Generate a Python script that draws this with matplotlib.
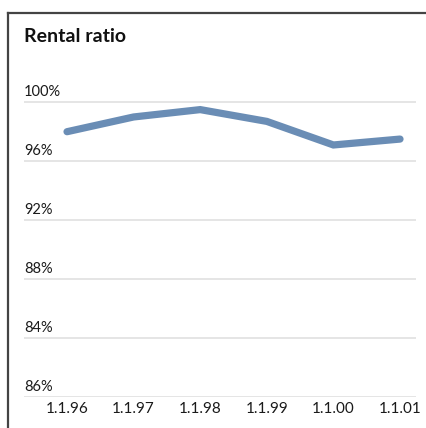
import matplotlib
matplotlib.use("Agg")
import matplotlib.pyplot as plt
from matplotlib.lines import Line2D

# Rental ratio at the start of each year
dates = ["1.1.96", "1.1.97", "1.1.98", "1.1.99", "1.1.00", "1.1.01"]
ratio = [98.0, 99.0, 99.5, 98.7, 97.1, 97.5]

grid_values = [100, 96, 92, 88, 84, 80]
grid_labels = ["100%", "96%", "92%", "88%", "84%", "86%"]

W, H = 426, 428
plt.rcParams['font.family'] = ['Lato', 'DejaVu Sans']

fig = plt.figure(figsize=(W / 100, H / 100), dpi=100)
ax = fig.add_axes([24 / W, 1 - 397 / H, 392 / W, (397 - 90) / H])

x = list(range(len(dates)))
ax.plot(x, ratio, color='#6a8db5', linewidth=5.2, solid_capstyle='round',
        solid_joinstyle='miter', zorder=3)

ax.set_xlim(-0.646, 5.24)
ax.set_ylim(80, 100.83)
ax.set_yticks(grid_values)
ax.set_yticklabels([])
ax.grid(axis='y', color='#e0e0e0', linewidth=1.2)
ax.set_xticks(x)
ax.set_xticklabels(dates, fontsize=11, color='#1a1a1a')
ax.tick_params(length=0, pad=3.5)
for side in ax.spines.values():
    side.set_visible(False)

# percentage labels sit just above their grid lines
for v, lab in zip(grid_values, grid_labels):
    ax.text(0, v + 0.2, lab, transform=ax.get_yaxis_transform(),
            ha='left', va='bottom', fontsize=10.5, color='#1a1a1a')

fig.text(24 / W, 1 - 28 / H, "Rental ratio", fontsize=14, fontweight='bold',
         ha='left', va='top', color='#111111')

# frame along the top and left edge
fig.add_artist(Line2D([7.5 / W, 1], [1 - 12.5 / H] * 2, color='#444444', linewidth=1.6))
fig.add_artist(Line2D([7.5 / W] * 2, [0, 1 - 12.5 / H], color='#444444', linewidth=1.6))

fig.savefig("out.png", dpi=100)
